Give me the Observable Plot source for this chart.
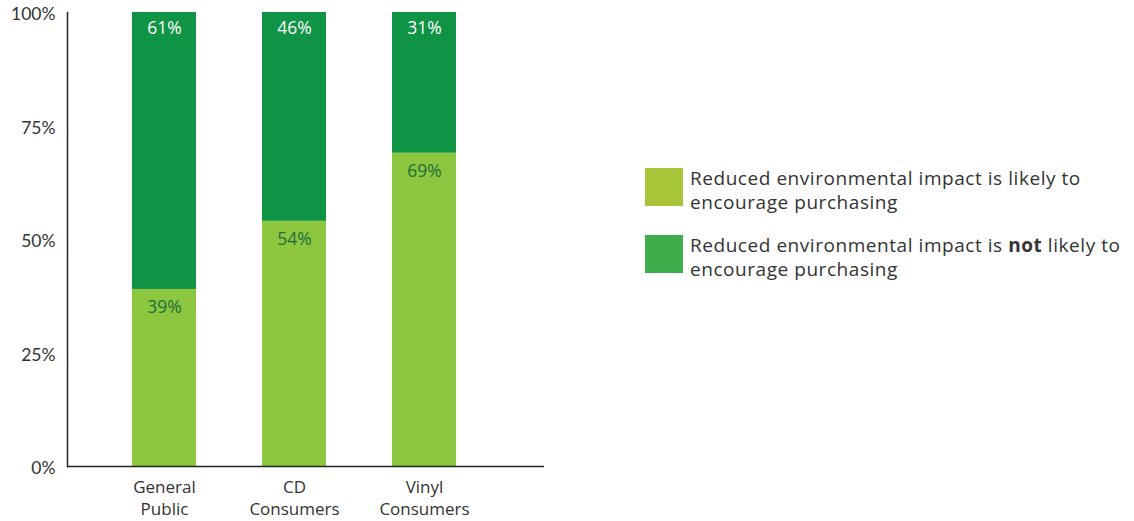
<!DOCTYPE html>
<html>
<head>
<meta charset="utf-8">
<script src="https://cdn.jsdelivr.net/npm/d3@7"></script>
<script src="https://cdn.jsdelivr.net/npm/@observablehq/plot@0.6"></script>
<style>
  body { margin: 0; background: #fff; font-family: "Open Sans", Lato, sans-serif; }
  #wrap { position: relative; width: 1134px; height: 521px; }
  #legend { position: absolute; left: 645px; top: 166px; color: #333; font-size: 19px; line-height: 24px; letter-spacing: 0.55px; }
  .item { display: flex; align-items: flex-start; margin-bottom: 19px; }
  .sw { width: 38px; height: 38px; flex: none; margin-right: 7px; margin-top: 2px; }
  .lbl { white-space: nowrap; }
</style>
</head>
<body>
<div id="wrap">
  <div id="chart"></div>
  <div id="legend">
    <div class="item"><div class="sw" style="background:#a9c539"></div><div class="lbl">Reduced environmental impact is likely to<br>encourage purchasing</div></div>
    <div class="item"><div class="sw" style="background:#3fae4a"></div><div class="lbl">Reduced environmental impact is <b>not</b> likely to<br>encourage purchasing</div></div>
  </div>
</div>
<script>
const categories = ["General Public", "CD Consumers", "Vinyl Consumers"];
const categoryLabels = ["General\nPublic", "CD\nConsumers", "Vinyl\nConsumers"];
const likely = [39, 54, 69];
const notLikely = [61, 46, 31];
const yTicks = [0, 25, 50, 75, 100];

const rows = [];
categories.forEach((c, i) => {
  rows.push({cat: c, series: "likely", value: likely[i]});
  rows.push({cat: c, series: "not", value: notLikely[i]});
});

const labelOf = new Map(categories.map((c, i) => [c, categoryLabels[i]]));

const chart = Plot.plot({
  width: 1134,
  height: 521,
  marginLeft: 67,
  marginRight: 590,
  marginTop: 12,
  marginBottom: 55,
  style: {fontFamily: "'Open Sans', Lato, sans-serif", fontSize: "18px", color: "#333", background: "#fff"},
  x: {domain: categories, range: [131, 456], paddingInner: 0.51, paddingOuter: 0, label: null},
  y: {domain: [0, 100], label: null},
  color: {domain: ["likely", "not"], range: ["#8dc63f", "#0f9344"]},
  marks: [
    Plot.barY(rows, {x: "cat", y: "value", fill: "series", order: ["likely", "not"]}),
    Plot.text(categories, {x: d => d, y: d => likely[categories.indexOf(d)], text: d => likely[categories.indexOf(d)] + "%", dy: 18, fill: "#1e6e3a", fontSize: 17.5}),
    Plot.text(categories, {x: d => d, y: 100, text: d => notLikely[categories.indexOf(d)] + "%", dy: 16, fill: "#ffffff", fontSize: 17.5}),
    Plot.axisY({ticks: yTicks, tickFormat: d => d + "%", tickSize: 0, tickPadding: 12, fontSize: 17.5, dy: 2, fill: "#333", fontFamily: "Lato, sans-serif"}),
    Plot.axisX({tickSize: 0, tickPadding: 11, tickFormat: d => labelOf.get(d), fontSize: 17, lineHeight: 1.3, fill: "#333", style: {letterSpacing: "0.3px"}}),
    Plot.frame({anchor: "left", stroke: "#222", strokeWidth: 1.5}),
    Plot.ruleY([0], {stroke: "#222", strokeWidth: 1.5})
  ]
});
document.getElementById("chart").appendChild(chart);
</script>
</body>
</html>
